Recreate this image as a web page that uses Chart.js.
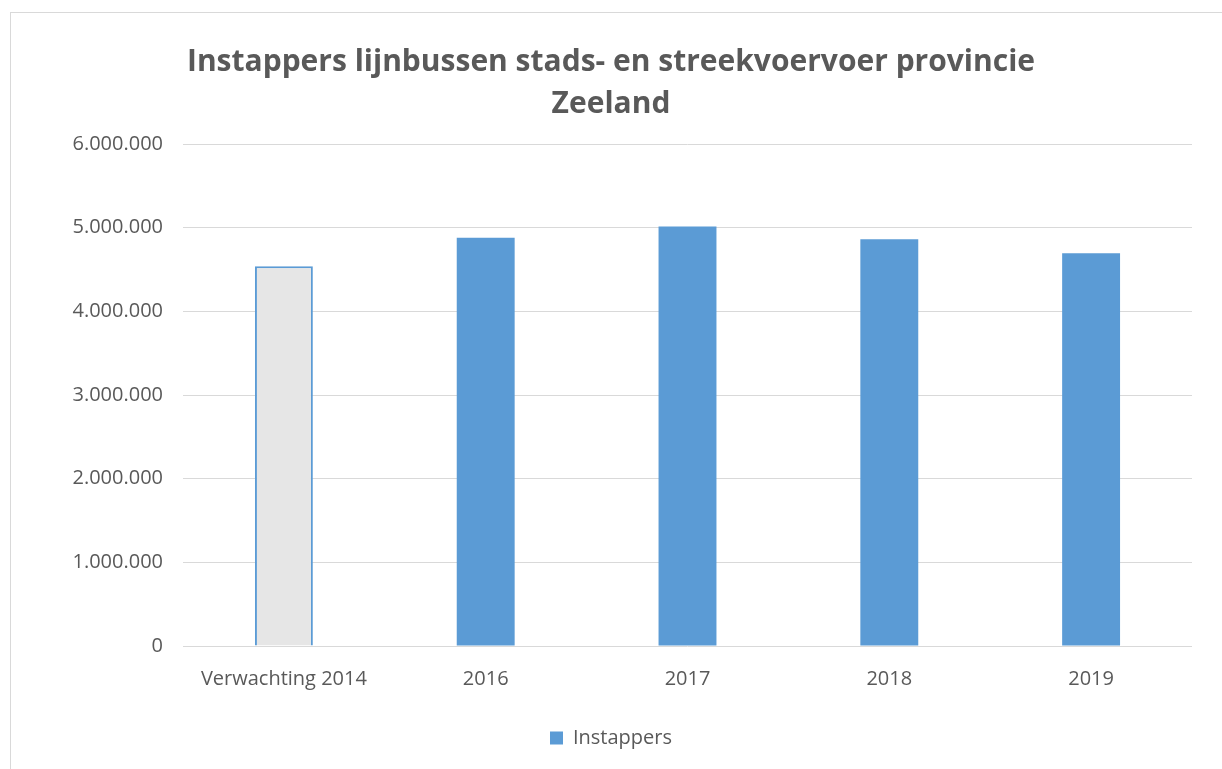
<!DOCTYPE html>
<html>
<head>
<meta charset="utf-8">
<script src="https://cdn.jsdelivr.net/npm/chart.js@4"></script>
<style>
  html, body { margin: 0; padding: 0; background: #fff; overflow: hidden; }
  #wrap { position: relative; width: 1222px; height: 769px; }
  #frame { position: absolute; left: 10px; top: 12px; width: 1300px; height: 900px; border: 1px solid #d9d9d9; }
  canvas { position: absolute; left: 0; top: 0; }
</style>
</head>
<body>
<div id="wrap">
  <div id="frame"></div>
  <canvas id="instappersChart" width="1222" height="769"></canvas>
</div>
<script>
// data
const categories = ['Verwachting 2014', '2016', '2017', '2018', '2019'];
const instappers = [4540000, 4880000, 5015000, 4862000, 4695000];
const yTicks = [0, 1000000, 2000000, 3000000, 4000000, 5000000, 6000000];

const blue = '#5b9bd5';
const grey = '#e6e6e6';
const textColor = '#595959';
const fontFamily = '"Open Sans", "Liberation Sans", sans-serif';

function dots(v) {
  return String(v).replace(/\B(?=(\d{3})+(?!\d))/g, '.');
}

new Chart(document.getElementById('instappersChart'), {
  type: 'bar',
  data: {
    labels: categories,
    datasets: [{
      label: 'Instappers',
      data: instappers,
      backgroundColor: categories.map((c, i) => i === 0 ? grey : blue),
      borderColor: blue,
      borderWidth: categories.map((c, i) => i === 0 ? 2 : 0),
      categoryPercentage: 1,
      barPercentage: 0.287
    }]
  },
  options: {
    responsive: false,
    animation: false,
    layout: { padding: { left: 30, right: 30, top: 41, bottom: 11 } },
    plugins: {
      title: {
        display: true,
        text: ['Instappers lijnbussen stads- en streekvoervoer provincie', 'Zeeland'],
        color: textColor,
        font: { family: fontFamily, size: 30, weight: 'bold', lineHeight: 1.4 },
        padding: { top: 0, bottom: 19 }
      },
      legend: {
        position: 'bottom',
        labels: {
          color: textColor,
          font: { family: fontFamily, size: 20 },
          boxWidth: 13,
          boxHeight: 13,
          padding: 20,
          generateLabels: () => [{
            text: 'Instappers',
            fillStyle: blue,
            strokeStyle: blue,
            lineWidth: 0,
            fontColor: textColor,
            datasetIndex: 0
          }]
        }
      },
      tooltip: { enabled: false }
    },
    scales: {
      x: {
        afterFit: s => { s.height += 4; },
        grid: { display: false },
        border: { display: false },
        ticks: { color: textColor, font: { family: fontFamily, size: 20 }, padding: 13 }
      },
      y: {
        min: 0,
        max: 6000000,
        afterBuildTicks: s => { s.ticks = yTicks.map(v => ({ value: v })); },
        afterFit: s => { s.width = 153; },
        grid: { color: '#d9d9d9', drawTicks: false },
        border: { display: false },
        ticks: {
          color: textColor,
          font: { family: fontFamily, size: 20 },
          padding: 20,
          callback: v => dots(v)
        }
      }
    }
  }
});
</script>
</body>
</html>
